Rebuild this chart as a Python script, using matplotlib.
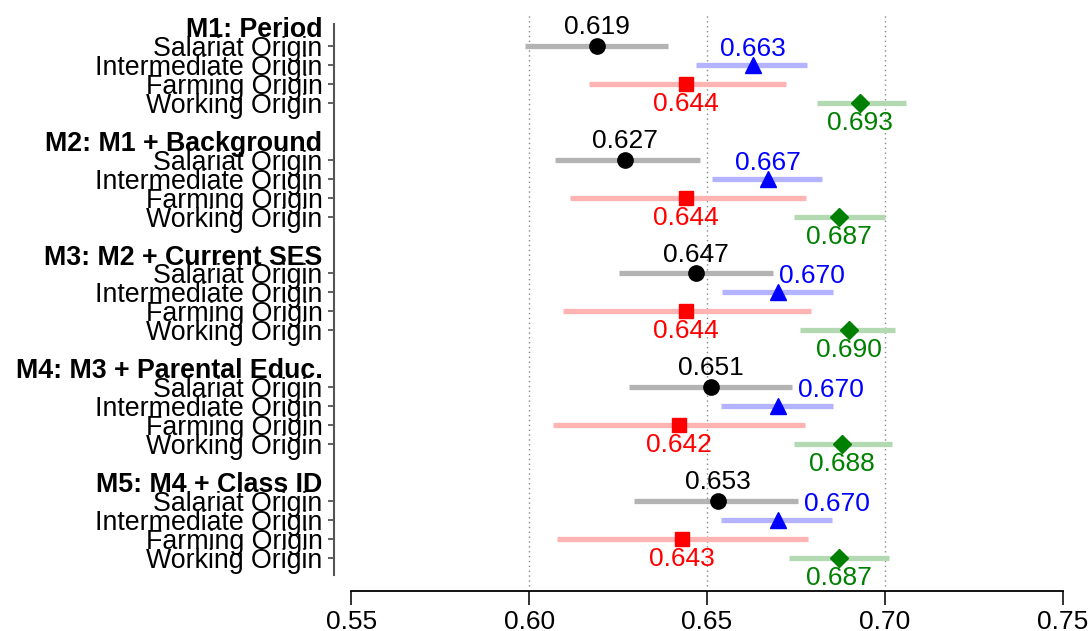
import matplotlib
matplotlib.use("Agg")
import matplotlib.pyplot as plt

plt.rcParams['font.family'] = ['Liberation Sans', 'DejaVu Sans']

# model headers and origin classes
models = ["M1: Period", "M2: M1 + Background", "M3: M2 + Current SES",
          "M4: M3 + Parental Educ.", "M5: M4 + Class ID"]
origins = ["Salariat Origin", "Intermediate Origin", "Farming Origin", "Working Origin"]

# point estimates per origin, one value per model
salariat = [0.619, 0.627, 0.647, 0.651, 0.653]
intermediate = [0.663, 0.667, 0.670, 0.670, 0.670]
farming = [0.644, 0.644, 0.644, 0.642, 0.643]
working = [0.693, 0.687, 0.690, 0.688, 0.687]

# confidence interval bounds
salariat_lo = [0.5988, 0.6074, 0.6253, 0.6282, 0.6296]
salariat_hi = [0.6390, 0.6479, 0.6686, 0.6739, 0.6755]
intermediate_lo = [0.6470, 0.6513, 0.6543, 0.6540, 0.6538]
intermediate_hi = [0.6782, 0.6823, 0.6855, 0.6855, 0.6852]
farming_lo = [0.6167, 0.6114, 0.6096, 0.6068, 0.6078]
farming_hi = [0.6722, 0.6779, 0.6791, 0.6776, 0.6784]
working_lo = [0.6809, 0.6744, 0.6761, 0.6744, 0.6731]
working_hi = [0.7060, 0.7001, 0.7029, 0.7020, 0.7010]

x_ticks = [0.55, 0.60, 0.65, 0.70, 0.75]
grid_x = [0.60, 0.65, 0.70]

series = [
    (salariat, salariat_lo, salariat_hi, 'black', '#b3b3b3', 'o', 11),
    (intermediate, intermediate_lo, intermediate_hi, 'blue', '#b3b3ff', '^', 11),
    (farming, farming_lo, farming_hi, 'red', '#ffb3b3', 's', 10),
    (working, working_lo, working_hi, 'green', '#b3d9b3', 'D', 9),
]

fig = plt.figure(figsize=(10.88, 6.31), dpi=100)
ax = fig.add_axes([0.3067, 0.0634, 0.6905, 0.916])

fs = 19
ytick_pos = []
ytick_lab = []
header_idx = []
for m, name in enumerate(models):
    base = m * 6
    header_idx.append(len(ytick_pos))
    ytick_pos.append(-base)
    ytick_lab.append(name)
    for k, org in enumerate(origins):
        ytick_pos.append(-(base + 1 + k))
        ytick_lab.append(org)

for x in grid_x:
    ax.axvline(x, ymin=0.008, ymax=1, color='#888888', lw=1, ls=(0, (1, 2.5)), zorder=0)

for m in range(len(models)):
    base = m * 6
    for k, (est, lo, hi, col, light, mk, ms) in enumerate(series):
        y = -(base + 1 + k)
        ax.plot([lo[m], hi[m]], [y, y], color=light, lw=3.8, solid_capstyle='butt', zorder=2)
        ax.plot(est[m], y, marker=mk, color=col, ms=ms, ls='none', zorder=3)
        lab = f"{est[m]:.3f}"
        if k == 0:
            ax.text(est[m], y + 1.0, lab, color=col, fontsize=fs, ha='center', va='center')
        elif k == 1:
            # keep the label clear of the salariat interval above
            if est[m] - 0.0095 < salariat_hi[m]:
                ax.text(salariat_hi[m] + 0.0017, y + 0.85, lab, color=col, fontsize=fs,
                        ha='left', va='center')
            else:
                ax.text(est[m], y + 0.85, lab, color=col, fontsize=fs, ha='center', va='center')
        else:
            ax.text(est[m], y - 1.05, lab, color=col, fontsize=fs, ha='center', va='center')

ax.set_xlim(0.5451, 0.7562)
ax.set_ylim(-29.75, 0.74)
ax.set_xticks(x_ticks)
ax.set_xticklabels([f"{v:.2f}" for v in x_ticks], fontsize=fs)
ax.set_yticks(ytick_pos)
ax.set_yticklabels(ytick_lab, fontsize=19.3)
for i, t in enumerate(ax.yaxis.get_major_ticks()):
    if i in header_idx:
        t.tick1line.set_visible(False)
        t.label1.set_fontweight('bold')
ax.tick_params(axis='x', length=10, width=1.3, pad=3.5, color='#222222')
ax.tick_params(axis='y', length=4, width=1.3, pad=4, color='#555555')

for s in ['top', 'right']:
    ax.spines[s].set_visible(False)
ax.spines['bottom'].set_bounds(0.55, 0.75)
ax.spines['bottom'].set_linewidth(1.3)
ax.spines['left'].set_bounds(-28.9, 0.15)
ax.spines['left'].set_linewidth(1.5)
ax.spines['left'].set_color('#555555')

fig.savefig("out.png", dpi=100)
